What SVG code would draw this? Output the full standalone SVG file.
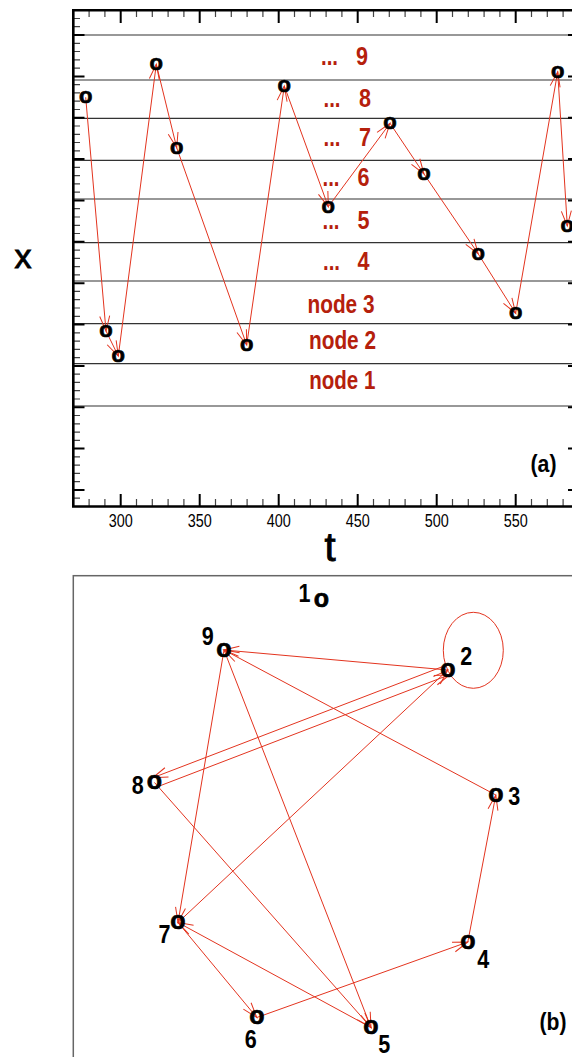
<svg xmlns="http://www.w3.org/2000/svg" width="572" height="1057" viewBox="0 0 572 1057">
<style>
.ax{stroke:#000;stroke-width:2.6;fill:none}
.mj{stroke:#000;stroke-width:2;fill:none}
.mn{stroke:#444;stroke-width:1.2;fill:none}
.gr{stroke:#333;stroke-width:1.2;fill:none}
.ed{stroke:#e3341f;stroke-width:1;fill:none;marker-end:url(#ah)}
.lp{stroke:#e3341f;stroke-width:1;fill:none}
.tk{font-family:"Liberation Sans",Arial,sans-serif;font-size:18px;fill:#000;text-anchor:middle}
.rl{font-family:"Liberation Sans",Arial,sans-serif;font-size:26px;font-weight:bold;fill:#b5200c}
.o{font-family:"Liberation Sans",Arial,sans-serif;font-size:22px;font-weight:bold;fill:#000;stroke:#000;stroke-width:0.7;text-anchor:middle}
.ob{font-family:"Liberation Sans",Arial,sans-serif;font-size:25px;font-weight:bold;fill:#000;stroke:#000;stroke-width:0.7;text-anchor:middle}
.nl{font-family:"Liberation Sans",Arial,sans-serif;font-size:26px;font-weight:bold;fill:#000;text-anchor:middle}
.pl{font-family:"Liberation Sans",Arial,sans-serif;font-size:23px;font-weight:bold;fill:#000}
.al{font-family:"Liberation Sans",Arial,sans-serif;fill:#000;stroke:#000;stroke-width:0.9}
</style>
<defs>
<marker id="ah" markerUnits="userSpaceOnUse" markerWidth="20" markerHeight="20" refX="15" refY="5" orient="auto" overflow="visible">
<path d="M0,0 L15,5 L0,10" fill="none" stroke="#e3341f" stroke-width="1"/>
</marker>
</defs>
<rect x="0" y="0" width="572" height="1057" fill="#fff"/>

<!-- Panel (a) -->
<g id="panel-a">
<g id="gridlines">
<path class="gr" d="M73.3,35H579M73.3,80H579M73.3,118.3H579M73.3,160.3H579M73.3,199H579M73.3,242.7H579M73.3,281H579M73.3,323.7H579M73.3,363.7H579M73.3,406H579"/>
</g>
<g id="axes">
<path class="mn" d="M89.1,10.2V17M104.9,10.2V17M136.5,10.2V17M152.3,10.2V17M168.1,10.2V17M183.9,10.2V17M215.5,10.2V17M231.3,10.2V17M247.1,10.2V17M262.9,10.2V17M294.5,10.2V17M310.3,10.2V17M326.1,10.2V17M341.9,10.2V17M373.5,10.2V17M389.3,10.2V17M405.1,10.2V17M420.9,10.2V17M452.5,10.2V17M468.3,10.2V17M484.1,10.2V17M499.9,10.2V17M531.5,10.2V17M547.3,10.2V17M563.1,10.2V17"/>
<path class="mn" d="M89.1,506.5V499M104.9,506.5V499M136.5,506.5V499M152.3,506.5V499M168.1,506.5V499M183.9,506.5V499M215.5,506.5V499M231.3,506.5V499M247.1,506.5V499M262.9,506.5V499M294.5,506.5V499M310.3,506.5V499M326.1,506.5V499M341.9,506.5V499M373.5,506.5V499M389.3,506.5V499M405.1,506.5V499M420.9,506.5V499M452.5,506.5V499M468.3,506.5V499M484.1,506.5V499M499.9,506.5V499M531.5,506.5V499M547.3,506.5V499M563.1,506.5V499"/>
<path class="mj" d="M120.7,10.2V23M199.7,10.2V23M278.7,10.2V23M357.7,10.2V23M436.7,10.2V23M515.7,10.2V23M120.7,506.5V494M199.7,506.5V494M278.7,506.5V494M357.7,506.5V494M436.7,506.5V494M515.7,506.5V494"/>
<path class="mj" d="M73.3,35H84.5M73.3,76.4H84.5M73.3,117.7H84.5M73.3,159.1H84.5M73.3,200.4H84.5M73.3,241.8H84.5M73.3,283.2H84.5M73.3,324.5H84.5M73.3,365.9H84.5M73.3,407.2H84.5M73.3,448.6H84.5M73.3,490H84.5"/>
<path class="mj" d="M579,35H568M579,76.4H568M579,117.7H568M579,159.1H568M579,200.4H568M579,241.8H568M579,283.2H568M579,324.5H568M579,365.9H568M579,407.2H568M579,448.6H568M579,490H568"/>
<path class="mn" d="M73.3,18.5H80M73.3,26.7H80M73.3,43.3H80M73.3,51.5H80M73.3,59.8H80M73.3,68.1H80M73.3,84.6H80M73.3,92.9H80M73.3,101.2H80M73.3,109.5H80M73.3,126H80M73.3,134.3H80M73.3,142.5H80M73.3,150.8H80M73.3,167.4H80M73.3,175.6H80M73.3,183.9H80M73.3,192.2H80M73.3,208.7H80M73.3,217H80M73.3,225.3H80M73.3,233.5H80M73.3,250.1H80M73.3,258.3H80M73.3,266.6H80M73.3,274.9H80M73.3,291.4H80M73.3,299.7H80M73.3,308H80M73.3,316.3H80M73.3,332.8H80M73.3,341.1H80M73.3,349.3H80M73.3,357.6H80M73.3,374.2H80M73.3,382.4H80M73.3,390.7H80M73.3,399H80M73.3,415.5H80M73.3,423.8H80M73.3,432.1H80M73.3,440.3H80M73.3,456.9H80M73.3,465.1H80M73.3,473.4H80M73.3,481.7H80M73.3,498.2H80"/>
<path class="ax" d="M73.3,10.2H579V506.5H73.3Z"/>
</g>
<g id="tick-labels">
<text class="tk" x="120.7" y="526.7" textLength="24" lengthAdjust="spacingAndGlyphs">300</text>
<text class="tk" x="199.7" y="526.7" textLength="24" lengthAdjust="spacingAndGlyphs">350</text>
<text class="tk" x="278.7" y="526.7" textLength="24" lengthAdjust="spacingAndGlyphs">400</text>
<text class="tk" x="357.7" y="526.7" textLength="24" lengthAdjust="spacingAndGlyphs">450</text>
<text class="tk" x="436.7" y="526.7" textLength="24" lengthAdjust="spacingAndGlyphs">500</text>
<text class="tk" x="515.7" y="526.7" textLength="24" lengthAdjust="spacingAndGlyphs">550</text>
</g>
<text id="xlabel" class="al" x="14.5" y="268" font-size="34">x</text>
<text id="tlabel" class="al" x="330" y="561" font-size="40" text-anchor="middle">t</text>
<text id="label-a" class="pl" x="530.5" y="472" textLength="26" lengthAdjust="spacingAndGlyphs">(a)</text>
<g id="level-labels">
<text class="rl" y="65"><tspan x="321" textLength="17" lengthAdjust="spacingAndGlyphs">...</tspan> <tspan x="356" textLength="12" lengthAdjust="spacingAndGlyphs">9</tspan></text>
<text class="rl" y="106.5"><tspan x="323.5" textLength="17" lengthAdjust="spacingAndGlyphs">...</tspan> <tspan x="359" textLength="12" lengthAdjust="spacingAndGlyphs">8</tspan></text>
<text class="rl" y="145.5"><tspan x="323.5" textLength="17" lengthAdjust="spacingAndGlyphs">...</tspan> <tspan x="359" textLength="12" lengthAdjust="spacingAndGlyphs">7</tspan></text>
<text class="rl" y="185.5"><tspan x="322.5" textLength="17" lengthAdjust="spacingAndGlyphs">...</tspan> <tspan x="357.5" textLength="12" lengthAdjust="spacingAndGlyphs">6</tspan></text>
<text class="rl" y="229"><tspan x="322.5" textLength="17" lengthAdjust="spacingAndGlyphs">...</tspan> <tspan x="357.5" textLength="12" lengthAdjust="spacingAndGlyphs">5</tspan></text>
<text class="rl" y="270"><tspan x="323" textLength="17" lengthAdjust="spacingAndGlyphs">...</tspan> <tspan x="357.5" textLength="12" lengthAdjust="spacingAndGlyphs">4</tspan></text>
<text class="rl" x="307.5" y="312.7" textLength="67" lengthAdjust="spacingAndGlyphs">node 3</text>
<text class="rl" x="309" y="349.3" textLength="67" lengthAdjust="spacingAndGlyphs">node 2</text>
<text class="rl" x="309.3" y="389.3" textLength="66" lengthAdjust="spacingAndGlyphs">node 1</text>
</g>
<g id="trajectory">
<line class="ed" x1="85.7" y1="97.3" x2="106" y2="331"/>
<line class="ed" x1="106" y1="331" x2="118.3" y2="356"/>
<line class="ed" x1="118.3" y1="356" x2="156.3" y2="64.3"/>
<line class="ed" x1="156.3" y1="64.3" x2="176.7" y2="147.7"/>
<line class="ed" x1="176.7" y1="147.7" x2="246.7" y2="345"/>
<line class="ed" x1="246.7" y1="345" x2="284.3" y2="86"/>
<line class="ed" x1="284.3" y1="86" x2="328.3" y2="206.7"/>
<line class="ed" x1="328.3" y1="206.7" x2="390" y2="123.3"/>
<line class="ed" x1="390" y1="123.3" x2="424" y2="174"/>
<line class="ed" x1="424" y1="174" x2="478.3" y2="254"/>
<line class="ed" x1="478.3" y1="254" x2="515.7" y2="313.3"/>
<line class="ed" x1="515.7" y1="313.3" x2="557.7" y2="71.7"/>
<line class="ed" x1="557.7" y1="71.7" x2="567.3" y2="226"/>
</g>
<g id="points">
<text class="o" x="85.7" y="103.1">o</text>
<text class="o" x="106" y="336.8">o</text>
<text class="o" x="118.3" y="361.8">o</text>
<text class="o" x="156.3" y="70.1">o</text>
<text class="o" x="176.7" y="153.5">o</text>
<text class="o" x="246.7" y="350.8">o</text>
<text class="o" x="284.3" y="91.8">o</text>
<text class="o" x="328.3" y="212.5">o</text>
<text class="o" x="390" y="129.1">o</text>
<text class="o" x="424" y="179.8">o</text>
<text class="o" x="478.3" y="259.8">o</text>
<text class="o" x="515.7" y="319.1">o</text>
<text class="o" x="557.7" y="77.5">o</text>
<text class="o" x="567.3" y="231.8">o</text>
</g>
</g>

<!-- Panel (b) -->
<g id="panel-b">
<rect id="frame-b" x="73.3" y="575.7" width="520" height="500" fill="none" stroke="#666" stroke-width="1.5"/>
<g id="connectors">
<ellipse class="lp" cx="473.3" cy="650.3" rx="30" ry="38"/>
<line class="ed" x1="447.8" y1="670" x2="224" y2="650"/>
<line class="ed" x1="495.8" y1="795" x2="224" y2="650"/>
<line class="ed" x1="446" y1="665.3" x2="152.7" y2="777.8"/>
<line class="ed" x1="156.3" y1="787.2" x2="449.6" y2="674.7"/>
<line class="ed" x1="224" y1="650" x2="178" y2="922.5"/>
<line class="ed" x1="224" y1="650" x2="371" y2="1027.5"/>
<line class="ed" x1="154.5" y1="782.5" x2="371" y2="1027.5"/>
<line class="ed" x1="178" y1="922.5" x2="447.8" y2="670"/>
<line class="ed" x1="371" y1="1027.5" x2="178" y2="922.5"/>
<line class="ed" x1="178" y1="922.5" x2="256.8" y2="1017.5"/>
<line class="ed" x1="256.8" y1="1017.5" x2="467.8" y2="942"/>
<line class="ed" x1="467.8" y1="942" x2="495.8" y2="795"/>
</g>
<g id="node-1"><text class="ob" x="321.3" y="607">o</text><text class="nl" x="304.5" y="601.7" textLength="12" lengthAdjust="spacingAndGlyphs">1</text></g>
<g id="node-2"><text class="ob" x="447.8" y="676.5">o</text><text class="nl" x="466.2" y="665" textLength="12" lengthAdjust="spacingAndGlyphs">2</text></g>
<g id="node-3"><text class="ob" x="495.8" y="801.5">o</text><text class="nl" x="514.2" y="805" textLength="12" lengthAdjust="spacingAndGlyphs">3</text></g>
<g id="node-4"><text class="ob" x="467.8" y="948.5">o</text><text class="nl" x="483.3" y="968.3" textLength="12" lengthAdjust="spacingAndGlyphs">4</text></g>
<g id="node-5"><text class="ob" x="371" y="1034">o</text><text class="nl" x="384.2" y="1052.7" textLength="12" lengthAdjust="spacingAndGlyphs">5</text></g>
<g id="node-6"><text class="ob" x="256.8" y="1024">o</text><text class="nl" x="250.8" y="1048.3" textLength="12" lengthAdjust="spacingAndGlyphs">6</text></g>
<g id="node-7"><text class="ob" x="178" y="929">o</text><text class="nl" x="164.5" y="942.7" textLength="12" lengthAdjust="spacingAndGlyphs">7</text></g>
<g id="node-8"><text class="ob" x="154.5" y="789">o</text><text class="nl" x="137.8" y="794.3" textLength="12" lengthAdjust="spacingAndGlyphs">8</text></g>
<g id="node-9"><text class="ob" x="224" y="656.5">o</text><text class="nl" x="207.8" y="645" textLength="12" lengthAdjust="spacingAndGlyphs">9</text></g>
<text id="label-b" class="pl" x="539.5" y="1030" textLength="27" lengthAdjust="spacingAndGlyphs">(b)</text>
</g>
</svg>
